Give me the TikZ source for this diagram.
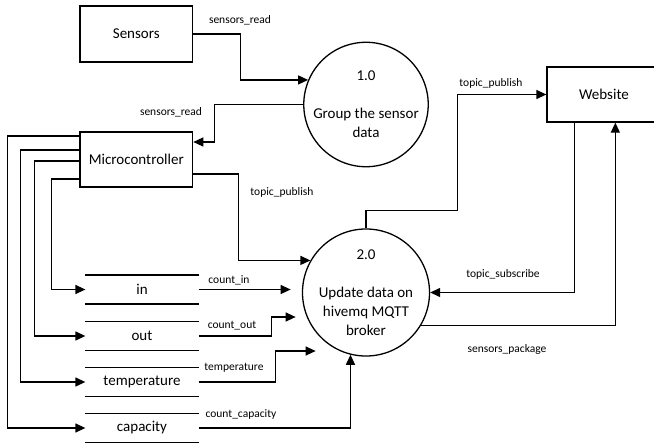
\documentclass[tikz,border=0pt]{standalone}
\usepackage{fontspec}
\setmainfont{Carlito}
\usetikzlibrary{arrows.meta,calc}
\begin{document}
\begin{tikzpicture}[x=1pt,y=-1pt,
  line width=1.3pt,
  flow/.style={-{Triangle[length=10pt,width=9pt]}},
  box/.style={draw,rectangle,inner sep=0pt,font=\fontsize{15}{19}\selectfont},
  proc/.style={draw,circle,minimum size=123pt,inner sep=0pt,align=center,font=\fontsize{15}{19}\selectfont},
  store/.style={rectangle,inner sep=0pt,minimum width=112pt,minimum height=27.5pt,font=\fontsize{15}{19}\selectfont},
  lbl/.style={inner sep=0pt,font=\fontsize{11.5}{13}\selectfont}]
\useasboundingbox (0,0) rectangle (654,444);
% entities
\node[box,minimum width=112.7pt,minimum height=56pt] (sensors) at (136.3,34) {Sensors};
\node[box,minimum width=112.7pt,minimum height=55pt] (micro) at (136.3,159.5) {Microcontroller};
\node[box,minimum width=114pt,minimum height=55pt] (website) at (604,94.5) {Website};
% processes
\node[proc] (p1) at (366,104.5) {1.0\\[19pt]Group the sensor\\data};
\node[proc] (p2) at (366,292.5) {2.0\\[19pt]Update data on\\hivemq MQTT\\broker};
% data stores
\node[store] (in) at (142,289.5) {in};
\node[store] (out) at (142,336) {out};
\node[store] (temp) at (142,382) {temperature};
\node[store] (cap) at (142,428) {capacity};
\foreach \n in {in,out,temp,cap}
  \draw (\n.north west) -- (\n.north east) (\n.south west) -- (\n.south east);
% flows
\draw[flow] (sensors.east) -- ++(47.3,0) |- (p1.157.5);
\draw[flow] (p1.west) -- ++(-88.5,0) |- ([yshift=17.5pt]micro.east);
\draw[flow] ([yshift=-14.5pt]micro.east) -- ++(45.3,0) |- (p2.150.3);
\draw[flow] ([yshift=23.5pt]micro.west) -- ++(-72,0) |- (cap.west);
\draw[flow] ([yshift=9.5pt]micro.west) -- ++(-59,0) |- (temp.west);
\draw[flow] ([yshift=-1.5pt]micro.west) -- ++(-45,0) |- (out.west);
\draw[flow] ([yshift=-19.5pt]micro.west) -- ++(-28,0) |- (in.west);
\draw[flow] (in.east) -- ++(92,0);
\draw[flow] (out.east) -- ++(73,0) -- ++(0,-19) -- ++(24,0);
\draw[flow] (temp.east) -- ++(77,0) -- ++(0,-31) -- ++(40,0);
\draw[flow] (cap.east) -| (p2.256.8);
\draw[flow] (p2.north) -- ++(0,-18) -| ($(website.west)+(-89,0)$) -- (website.west);
\draw[flow] ([xshift=28pt]website.south west) |- (p2.east);
\draw[flow] (p2.-31.9) -| ([xshift=69pt]website.south west);
% labels
\node[lbl] (l1) at (240,20) {sensors\_read};
\node[lbl] (l2) at (171,112) {sensors\_read};
\node[lbl] (l3) at (282,192) {topic\_publish};
\node[lbl] (l4) at (491,83) {topic\_publish};
\node[lbl] (l5) at (503,274.5) {topic\_subscribe};
\node[lbl] (l6) at (507,349) {sensors\_package};
\node[lbl] (l7) at (229,280) {count\_in};
\node[lbl] (l8) at (232,326) {count\_out};
\node[lbl] (l9) at (234,368) {temperature};
\node[lbl] (l10) at (241,414) {count\_capacity};
\end{tikzpicture}
\end{document}
